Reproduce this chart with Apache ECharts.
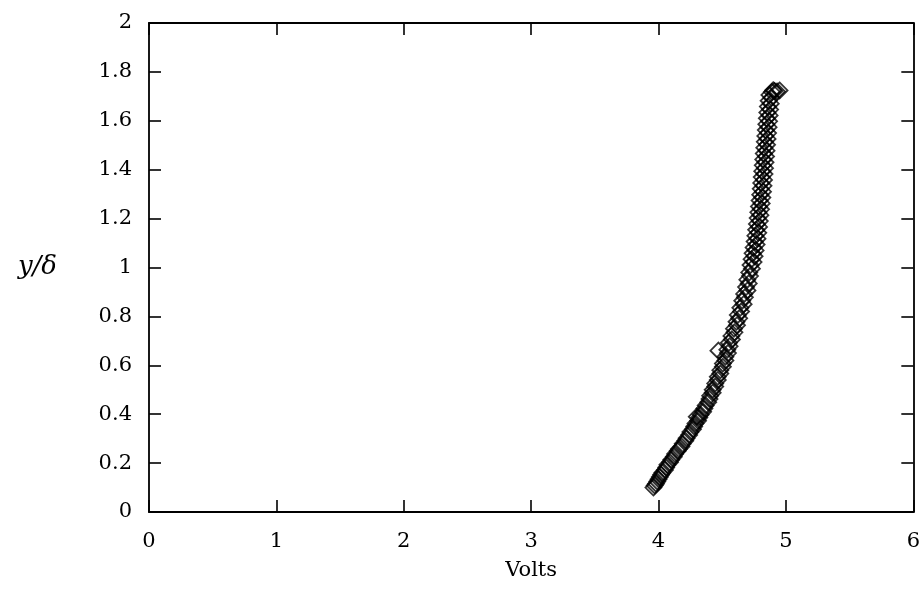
<!DOCTYPE html>
<html>
<head>
<meta charset="utf-8">
<script src="https://cdn.jsdelivr.net/npm/echarts@6/dist/echarts.min.js"></script>
<style>html,body{margin:0;padding:0;background:#fff}#c{width:923px;height:592px}</style>
</head>
<body>
<div id="c"></div>
<script>
const xTicks = [0, 1, 2, 3, 4, 5, 6];
const yTicks = [0, 0.2, 0.4, 0.6, 0.8, 1, 1.2, 1.4, 1.6, 1.8, 2];
const volts = [
 3.96,3.97,3.98,3.99,4.00,4.01,4.02,4.03,4.05,4.06,4.07,4.09,4.10,4.12,4.13,4.15,4.16,4.18,4.19,4.21,
 4.22,4.24,4.25,4.27,4.28,4.29,4.31,4.32,4.33,4.35,4.36,4.37,4.39,4.40,4.30,4.47,
 4.405,4.425,4.425,4.445,4.445,4.465,4.465,4.485,4.485,4.505,4.505,4.525,4.525,4.545,4.54,4.558,4.552,4.576,4.572,4.596,
 4.592,4.616,4.612,4.633,4.622,4.648,4.642,4.668,4.657,4.678,4.672,4.698,4.687,4.708,4.697,4.718,4.712,4.733,
 4.722,4.746,4.730,4.754,4.738,4.762,4.746,4.770,4.754,4.777,4.760,4.783,4.766,4.789,4.772,4.795,4.778,4.800,
 4.783,4.805,4.788,4.810,4.793,4.815,4.798,4.820,4.802,4.824,4.806,4.828,4.810,4.832,4.814,4.836,4.818,4.840,
 4.822,4.844,4.826,4.848,4.830,4.852,4.834,4.856,4.838,4.860,4.842,4.864,4.846,4.868,4.850,4.872,4.854,4.876,
 4.858,4.881,4.864,4.887,4.870,
 4.89,4.91,4.93,4.95,4.90
];
const yDelta = [
 0.100,0.108,0.116,0.125,0.134,0.143,0.152,0.161,0.172,0.182,0.193,0.203,0.214,0.226,0.237,0.249,0.258,0.268,0.279,0.291,
 0.302,0.315,0.327,0.338,0.350,0.362,0.373,0.386,0.398,0.410,0.423,0.436,0.449,0.462,0.390,0.660,
 0.475,0.488,0.500,0.513,0.526,0.540,0.553,0.566,0.580,0.594,0.607,0.620,0.635,0.650,0.664,0.678,0.692,0.706,0.720,0.735,
 0.750,0.764,0.778,0.792,0.806,0.820,0.835,0.850,0.864,0.878,0.892,0.906,0.920,0.935,0.950,0.965,0.980,0.995,
 1.010,1.022,1.034,1.046,1.058,1.070,1.082,1.094,1.106,1.118,1.130,1.142,1.154,1.166,1.178,1.190,1.202,1.214,
 1.226,1.238,1.250,1.262,1.274,1.286,1.298,1.310,1.322,1.334,1.346,1.358,1.370,1.382,1.394,1.406,1.418,1.430,
 1.442,1.454,1.466,1.478,1.490,1.502,1.514,1.526,1.538,1.550,1.562,1.574,1.586,1.598,1.610,1.622,1.634,1.646,
 1.658,1.670,1.682,1.694,1.706,
 1.718,1.722,1.720,1.724,1.725
];
const xName = 'Volts';
const yName = 'y/δ';

const pts = volts.map((v, i) => [v, yDelta[i]]);
const font = '"DejaVu Serif", "Liberation Serif", serif';
const lineStyle = {color: '#000', width: 1.8};
const tickStyle = {color: '#000', width: 1.6};
const chart = echarts.init(document.getElementById('c'));
chart.setOption({
  animation: false,
  backgroundColor: '#fff',
  grid: {left: 149, right: 9, top: 23, bottom: 80},
  xAxis: [{
    type: 'value', min: xTicks[0], max: xTicks[xTicks.length - 1], interval: 1, position: 'bottom',
    axisLine: {show: true, onZero: false, lineStyle}, axisTick: {show: true, inside: true, length: 12, lineStyle: tickStyle},
    axisLabel: {color: '#000', fontFamily: font, fontSize: 21, margin: 19},
    splitLine: {show: false},
    name: xName, nameLocation: 'middle', nameGap: 48,
    nameTextStyle: {color: '#000', fontFamily: font, fontSize: 21}
  }, {
    type: 'value', min: xTicks[0], max: xTicks[xTicks.length - 1], interval: 1, position: 'top',
    axisLine: {show: true, onZero: false, lineStyle}, axisTick: {show: true, inside: true, length: 12, lineStyle: tickStyle},
    axisLabel: {show: false}, splitLine: {show: false}
  }],
  yAxis: [{
    type: 'value', min: yTicks[0], max: yTicks[yTicks.length - 1], interval: 0.2, position: 'left',
    axisLine: {show: true, onZero: false, lineStyle}, axisTick: {show: true, inside: true, length: 12, lineStyle: tickStyle},
    axisLabel: {color: '#000', fontFamily: font, fontSize: 21, margin: 17,
      formatter: v => String(Math.round(v * 10) / 10)},
    splitLine: {show: false},
    name: yName, nameLocation: 'middle', nameRotate: 0, nameGap: 92,
    nameTextStyle: {color: '#000', fontFamily: font, fontSize: 26, fontStyle: 'italic'}
  }, {
    type: 'value', min: yTicks[0], max: yTicks[yTicks.length - 1], interval: 0.2, position: 'right',
    axisLine: {show: true, onZero: false, lineStyle}, axisTick: {show: true, inside: true, length: 12, lineStyle: tickStyle},
    axisLabel: {show: false}, splitLine: {show: false}
  }],
  series: [{
    type: 'scatter', xAxisIndex: 0, yAxisIndex: 0,
    symbol: 'diamond', symbolSize: 16,
    itemStyle: {color: 'transparent', borderColor: '#000', borderWidth: 1.8},
    data: pts
  }]
});
</script>
</body>
</html>
